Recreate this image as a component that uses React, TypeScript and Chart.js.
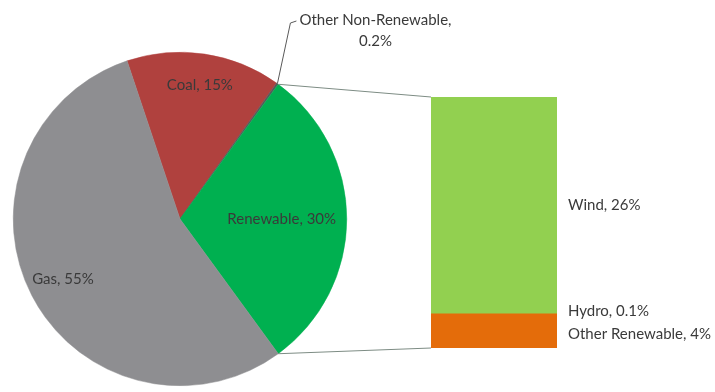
import React, { useEffect, useRef } from "react";
import { Chart, registerables } from "chart.js";

Chart.register(...registerables);

// ---- data ----
const pieLabels = ["Coal", "Other Non-Renewable", "Renewable", "Gas"];
const pieValues = [15, 0.2, 30, 55];
const pieColors = ["#b0413e", "#595959", "#00b050", "#8e8e91"];

const barLabels = ["Other Renewable", "Hydro", "Wind"];
const barValues = [4, 0.1, 26];
const barColors = ["#e46c0a", "#e46c0a", "#92d050"];

const W = 715;
const H = 392;
const FONT = "15px Lato, 'Open Sans', sans-serif";
const TEXT = "#3a3a3a";

export default function App() {
  const pieRef = useRef<HTMLCanvasElement | null>(null);
  const barRef = useRef<HTMLCanvasElement | null>(null);

  useEffect(() => {
    if (!pieRef.current || !barRef.current) return;
    const total = pieValues.reduce((a, b) => a + b, 0);
    const expandIdx = 2;
    const before = pieValues.slice(0, expandIdx).reduce((a, b) => a + b, 0);
    const rotation = 90 - ((before + pieValues[expandIdx] / 2) / total) * 360;

    const labelRadius: Record<number, number> = { 0: 0.81, 2: 0.61, 3: 0.79 };

    const pieLabelPlugin = {
      id: "pieLabels",
      afterDraw(chart: any) {
        const ctx = chart.ctx;
        const meta = chart.getDatasetMeta(0);
        ctx.save();
        ctx.font = FONT;
        ctx.fillStyle = TEXT;
        ctx.textBaseline = "middle";
        meta.data.forEach((arc: any, i: number) => {
          const mid = (arc.startAngle + arc.endAngle) / 2;
          const text = `${pieLabels[i]}, ${pieValues[i]}%`;
          if (labelRadius[i] !== undefined) {
            const r = arc.outerRadius * labelRadius[i];
            ctx.textAlign = "center";
            ctx.fillText(text, arc.x + r * Math.cos(mid), arc.y + r * Math.sin(mid));
          } else {
            // outside label with leader line
            const px = arc.x + arc.outerRadius * Math.cos(mid);
            const py = arc.y + arc.outerRadius * Math.sin(mid);
            const ex = px + 13;
            const ey = 23;
            const fx = ex + 6;
            const fy = 21;
            ctx.strokeStyle = "#595959";
            ctx.lineWidth = 1;
            ctx.beginPath();
            ctx.moveTo(px, py);
            ctx.lineTo(ex, ey);
            ctx.lineTo(fx, fy);
            ctx.stroke();
            const l1 = `${pieLabels[i]},`;
            const l2 = `${pieValues[i]}%`;
            const w = ctx.measureText(l1).width;
            const cx = fx + 3 + w / 2;
            ctx.textAlign = "center";
            ctx.fillText(l1, cx, 20);
            ctx.fillText(l2, cx, 41);
          }
        });
        ctx.restore();
      },
    };

    const pie = new Chart(pieRef.current, {
      type: "pie",
      data: {
        labels: pieLabels,
        datasets: [
          {
            data: pieValues,
            backgroundColor: pieColors,
            borderColor: pieColors,
            borderWidth: 0.5,
          },
        ],
      },
      options: {
        responsive: false,
        animation: false,
        devicePixelRatio: 1,
        rotation,
        layout: { padding: { left: 13, right: 368, top: 52, bottom: 6 } },
        plugins: { legend: { display: false }, tooltip: { enabled: false } },
      },
      plugins: [pieLabelPlugin],
    });

    const barPlugin = {
      id: "barExtras",
      afterDraw(chart: any) {
        const ctx = chart.ctx;
        ctx.save();
        // connectors
        const arc: any = pie.getDatasetMeta(0).data[expandIdx];
        const topBar: any = chart.getDatasetMeta(barValues.length - 1).data[0];
        const botBar: any = chart.getDatasetMeta(0).data[0];
        const left = topBar.x - topBar.width / 2;
        ctx.strokeStyle = "#7d8c84";
        ctx.lineWidth = 1;
        ctx.beginPath();
        ctx.moveTo(arc.x + arc.outerRadius * Math.cos(arc.startAngle), arc.y + arc.outerRadius * Math.sin(arc.startAngle));
        ctx.lineTo(left, topBar.y);
        ctx.moveTo(arc.x + arc.outerRadius * Math.cos(arc.endAngle), arc.y + arc.outerRadius * Math.sin(arc.endAngle));
        ctx.lineTo(left, botBar.base);
        ctx.stroke();

        // labels
        const items: { y: number; text: string }[] = [];
        for (let i = barValues.length - 1; i >= 0; i--) {
          const el: any = chart.getDatasetMeta(i).data[0];
          items.push({ y: (el.y + el.base) / 2, text: `${barLabels[i]}, ${barValues[i]}%` });
        }
        const gap = 23;
        for (let k = 1; k < items.length; k++) {
          const d = items[k].y - items[k - 1].y;
          if (d < gap) {
            const o = (gap - d) / 2;
            items[k - 1].y -= o;
            items[k].y += o;
          }
        }
        const right = topBar.x + topBar.width / 2;
        ctx.font = FONT;
        ctx.fillStyle = TEXT;
        ctx.textAlign = "left";
        ctx.textBaseline = "middle";
        items.forEach((it) => ctx.fillText(it.text, right + 11, it.y));
        ctx.restore();
      },
    };

    const barTotal = barValues.reduce((a, b) => a + b, 0);
    const bar = new Chart(barRef.current, {
      type: "bar",
      data: {
        labels: ["Renewable"],
        datasets: barValues.map((v, i) => ({
          label: barLabels[i],
          data: [v],
          backgroundColor: barColors[i],
          borderWidth: 0,
          barPercentage: 1,
          categoryPercentage: 1,
        })),
      },
      options: {
        responsive: false,
        animation: false,
        devicePixelRatio: 1,
        layout: { padding: { left: 431, right: 158, top: 97, bottom: 44 } },
        scales: {
          x: { display: false, stacked: true },
          y: { display: false, stacked: true, min: 0, max: barTotal },
        },
        plugins: { legend: { display: false }, tooltip: { enabled: false } },
      },
      plugins: [barPlugin],
    });

    return () => {
      bar.destroy();
      pie.destroy();
    };
  }, []);

  const cs: React.CSSProperties = { position: "absolute", left: 0, top: 0, width: W, height: H };
  return (
    <div style={{ position: "absolute", left: 0, top: 0, width: W, height: H, background: "#fff" }}>
      <canvas ref={pieRef} width={W} height={H} style={cs} />
      <canvas ref={barRef} width={W} height={H} style={cs} />
    </div>
  );
}
